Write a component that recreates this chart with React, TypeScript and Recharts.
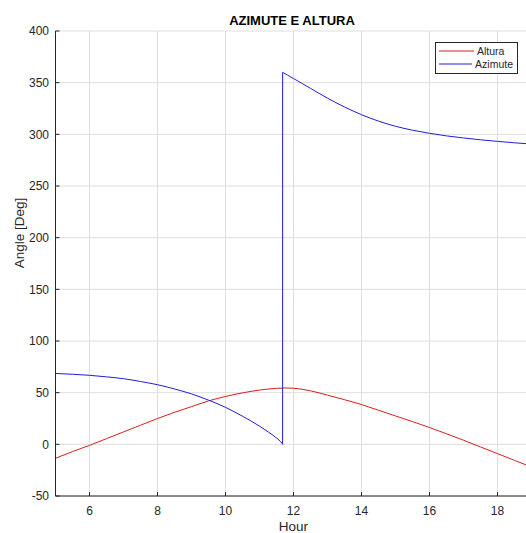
import { LineChart, Line, XAxis, YAxis, CartesianGrid, Legend } from "recharts";

// hours sampled every half hour
const hours = [
  5, 5.5, 6, 6.5, 7, 7.5, 8, 8.5, 9, 9.5, 10, 10.5, 11, 11.5, 12, 12.5, 13,
  13.5, 14, 14.5, 15, 15.5, 16, 16.5, 17, 17.5, 18, 18.5, 19,
];
const altura = [
  -13.5, -7, -1, 5.5, 12, 18.5, 25, 31, 36.5, 42, 46.3, 49.8, 52.5, 54.2, 54.3,
  51.8, 47.6, 43.2, 38.5, 33, 27.5, 22, 16.3, 10.2, 4, -2.5, -9, -15.5, -22,
];

// azimute before and after the jump at solar noon
const noonHour = 11.68;
const morningHours = [5, 5.5, 6, 6.5, 7, 7.5, 8, 8.5, 9, 9.5, 10, 10.5, 11, 11.5, noonHour];
const azimuteMorning = [68.6, 67.8, 66.8, 65.3, 63.5, 60.8, 57.7, 53.6, 48.8, 42.8, 35.8, 27.2, 17.6, 6.2, 0];
const afternoonHours = [noonHour, 12, 12.5, 13, 13.5, 14, 14.5, 15, 15.5, 16, 16.5, 17, 17.5, 18, 18.5, 19];
const azimuteAfternoon = [360, 354, 344.5, 335, 326.5, 319, 312.8, 307.8, 304, 301, 298.5, 296.5, 294.7, 293.2, 291.8, 290.6];
const jumpValues = [0, 360];

const xTicks = [6, 8, 10, 12, 14, 16, 18];
const yTicks = [-50, 0, 50, 100, 150, 200, 250, 300, 350, 400];

const seriesNames = ["Altura", "Azimute"];
const seriesColors = ["#d81e1e", "#1e1ed8"];

const alturaData = hours.map((h, i) => ({ hour: h, value: altura[i] }));
const morningData = morningHours.map((h, i) => ({ hour: h, value: azimuteMorning[i] }));
const afternoonData = afternoonHours.map((h, i) => ({ hour: h, value: azimuteAfternoon[i] }));
const jumpData = jumpValues.map((v) => ({ hour: noonHour, value: v }));

const axisColor = "#262626";
const font = "'Liberation Sans', Arial, sans-serif";

function MatlabLegend() {
  return (
    <div
      style={{
        border: `1px solid ${axisColor}`,
        background: "#fff",
        padding: "2px 4px 3px 3px",
        fontFamily: font,
        fontSize: 10.5,
        color: axisColor,
      }}
    >
      {seriesNames.map((name, i) => (
        <div key={name} style={{ display: "flex", alignItems: "center", height: 12.6 }}>
          <svg width={35} height={4} style={{ marginRight: 3 }}>
            <line x1={0} y1={2} x2={35} y2={2} stroke={seriesColors[i]} strokeWidth={1} />
          </svg>
          <span>{name}</span>
        </div>
      ))}
    </div>
  );
}

function AngleLabel() {
  return (
    <text
      x={19}
      y={233}
      transform="rotate(-90 19 233)"
      textAnchor="middle"
      dominantBaseline="central"
      fill={axisColor}
      fontSize={13.5}
      fontFamily={font}
    >
      Angle [Deg]
    </text>
  );
}

export default function App() {
  return (
    <div
      style={{
        position: "fixed",
        top: 0,
        left: 0,
        width: 526,
        height: 533,
        overflow: "hidden",
        background: "#fff",
      }}
    >
      <div
        style={{
          position: "absolute",
          top: 13,
          left: 0,
          width: 584,
          textAlign: "center",
          fontFamily: font,
          fontWeight: "bold",
          fontSize: 13,
          lineHeight: "16px",
          color: "#000",
        }}
      >
        AZIMUTE E ALTURA
      </div>
      <LineChart
        width={545}
        height={533}
        margin={{ top: 31, right: 13.5, left: 0, bottom: 0 }}
        style={{ fontFamily: font }}
      >
        <CartesianGrid stroke="#dedede" />
        <XAxis
          dataKey="hour"
          type="number"
          domain={[5, 19]}
          ticks={xTicks}
          allowDataOverflow
          height={37}
          stroke={axisColor}
          tickSize={-4}
          tickMargin={14}
          tick={{ fill: axisColor, fontSize: 12 }}
          label={{ value: "Hour", position: "insideBottom", offset: 2, fill: axisColor, fontSize: 13.5 }}
        />
        <YAxis
          type="number"
          domain={[-50, 400]}
          ticks={yTicks}
          allowDataOverflow
          width={55.5}
          stroke={axisColor}
          tickSize={-4}
          tickMargin={10.5}
          tick={{ fill: axisColor, fontSize: 12 }}
          label={{ content: () => <AngleLabel /> }}
        />
        <Legend
          layout="vertical"
          align="center"
          verticalAlign="middle"
          content={() => <MatlabLegend />}
          wrapperStyle={{ position: "absolute", left: 435, top: 42, width: 83, height: "auto" }}
        />
        <Line data={alturaData} dataKey="value" name="Altura" type="natural" stroke={seriesColors[0]} strokeWidth={1} dot={false} isAnimationActive={false} />
        <Line data={morningData} dataKey="value" name="Azimute" type="natural" stroke={seriesColors[1]} strokeWidth={1} dot={false} isAnimationActive={false} />
        <Line data={jumpData} dataKey="value" name="Azimute jump" type="linear" stroke={seriesColors[1]} strokeWidth={1} dot={false} legendType="none" isAnimationActive={false} />
        <Line data={afternoonData} dataKey="value" name="Azimute pm" type="natural" stroke={seriesColors[1]} strokeWidth={1} dot={false} legendType="none" isAnimationActive={false} />
      </LineChart>
    </div>
  );
}
